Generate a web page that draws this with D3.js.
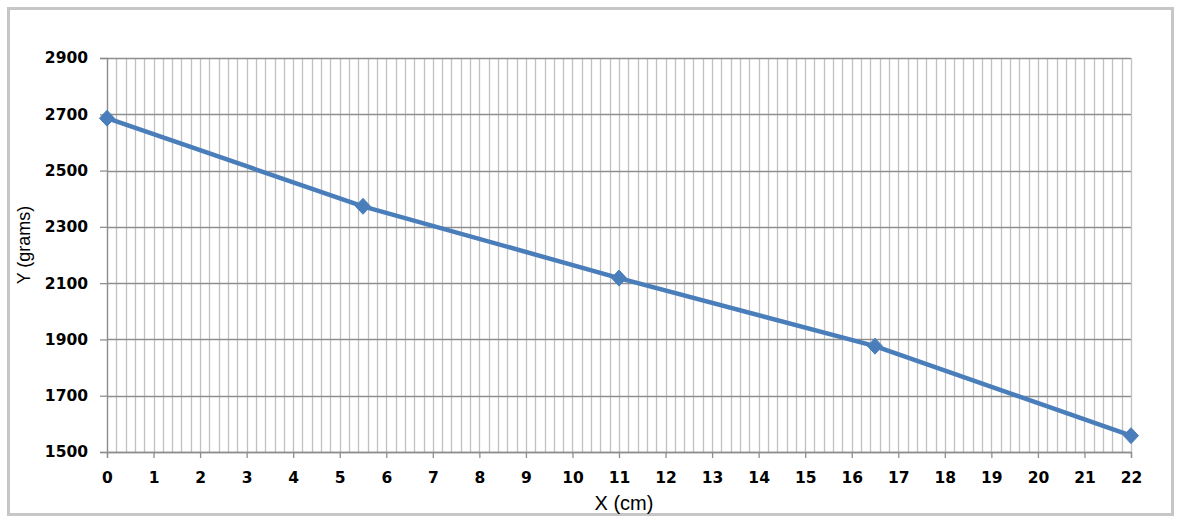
<!DOCTYPE html>
<html><head><meta charset="utf-8">
<script src="https://cdn.jsdelivr.net/npm/d3@7"></script>
<style>body{margin:0;background:#fff}svg{display:block}</style>
</head><body>
<svg id="c" width="1179" height="521"></svg>
<script>
const xValues = [0, 5.5, 11, 16.5, 22];
const yValues = [2686, 2373, 2118, 1876, 1558];
const xTicks = d3.range(0, 23, 1);
const yTicks = [1500, 1700, 1900, 2100, 2300, 2500, 2700, 2900];
const xTitle = "X (cm)";
const yTitle = "Y (grams)";

const svg = d3.select("#c");
const m = {left: 107, right: 1131, top: 58, bottom: 452};

svg.append("rect").attr("x", 8.5).attr("y", 8.5).attr("width", 1164).attr("height", 506)
  .attr("fill", "#fff").attr("stroke", "#c6c6c6").attr("stroke-width", 3);

const x = d3.scaleLinear().domain([0, 22]).range([m.left, m.right]);
const y = d3.scaleLinear().domain([1500, 2900]).range([m.bottom, m.top]);

// minor vertical gridlines
const minor = d3.range(0, 110 + 1).map(i => i / 5);
svg.append("g").selectAll("line").data(minor).join("line")
  .attr("x1", d => Math.round(x(d)) + 0.5).attr("x2", d => Math.round(x(d)) + 0.5)
  .attr("y1", m.top).attr("y2", m.bottom)
  .attr("stroke", "#c0c0c0").attr("stroke-width", 1.3);

// horizontal gridlines
svg.append("g").selectAll("line").data(yTicks).join("line")
  .attr("x1", m.left).attr("x2", m.right)
  .attr("y1", d => Math.round(y(d)) + 0.5).attr("y2", d => Math.round(y(d)) + 0.5)
  .attr("stroke", "#8e8e8e").attr("stroke-width", 1.3);

// y axis
const yAxis = svg.append("g").attr("transform", `translate(${m.left},0)`)
  .call(d3.axisLeft(y).tickValues(yTicks).tickSize(7).tickPadding(12).tickFormat(d3.format("d")));
yAxis.select(".domain").attr("stroke", "#8e8e8e").attr("stroke-width", 1.3);
yAxis.selectAll(".tick line").attr("stroke", "#8e8e8e").attr("stroke-width", 1.3);
yAxis.selectAll("text").attr("font-family", "DejaVu Sans").attr("font-weight", "bold")
  .attr("font-size", 15.5).attr("fill", "#000");

// x axis
const xAxis = svg.append("g").attr("transform", `translate(0,${m.bottom})`)
  .call(d3.axisBottom(x).tickValues(xTicks).tickSize(6).tickPadding(14).tickFormat(d3.format("d")));
xAxis.select(".domain").attr("stroke", "#8e8e8e").attr("stroke-width", 1.3);
xAxis.selectAll(".tick line").attr("stroke", "#8e8e8e").attr("stroke-width", 1.3);
xAxis.selectAll("text").attr("font-family", "DejaVu Sans").attr("font-weight", "bold")
  .attr("font-size", 15.5).attr("fill", "#000");

// titles
svg.append("text").attr("x", 624).attr("y", 510)
  .attr("text-anchor", "middle").attr("font-family", "Liberation Sans").attr("font-size", 20)
  .attr("fill", "#000").text(xTitle);
svg.append("text").attr("transform", `translate(29.5,245) rotate(-90)`)
  .attr("text-anchor", "middle").attr("font-family", "Liberation Sans").attr("font-size", 18)
  .attr("fill", "#000").text(yTitle);

// line
const pts = xValues.map((v, i) => [v, yValues[i]]);
svg.append("path").datum(pts)
  .attr("d", d3.line().x(d => x(d[0])).y(d => y(d[1])))
  .attr("fill", "none").attr("stroke", "#4a7ebb").attr("stroke-width", 4.5)
  .attr("stroke-linejoin", "round");

svg.append("g").selectAll("path").data(pts).join("path")
  .attr("transform", d => `translate(${x(d[0])},${y(d[1])})`)
  .attr("d", "M0,-8L7.5,0L0,8L-7.5,0Z")
  .attr("fill", "#4a7ebb").attr("stroke", "#4a7ebb").attr("stroke-width", 1);
</script>
</body></html>
